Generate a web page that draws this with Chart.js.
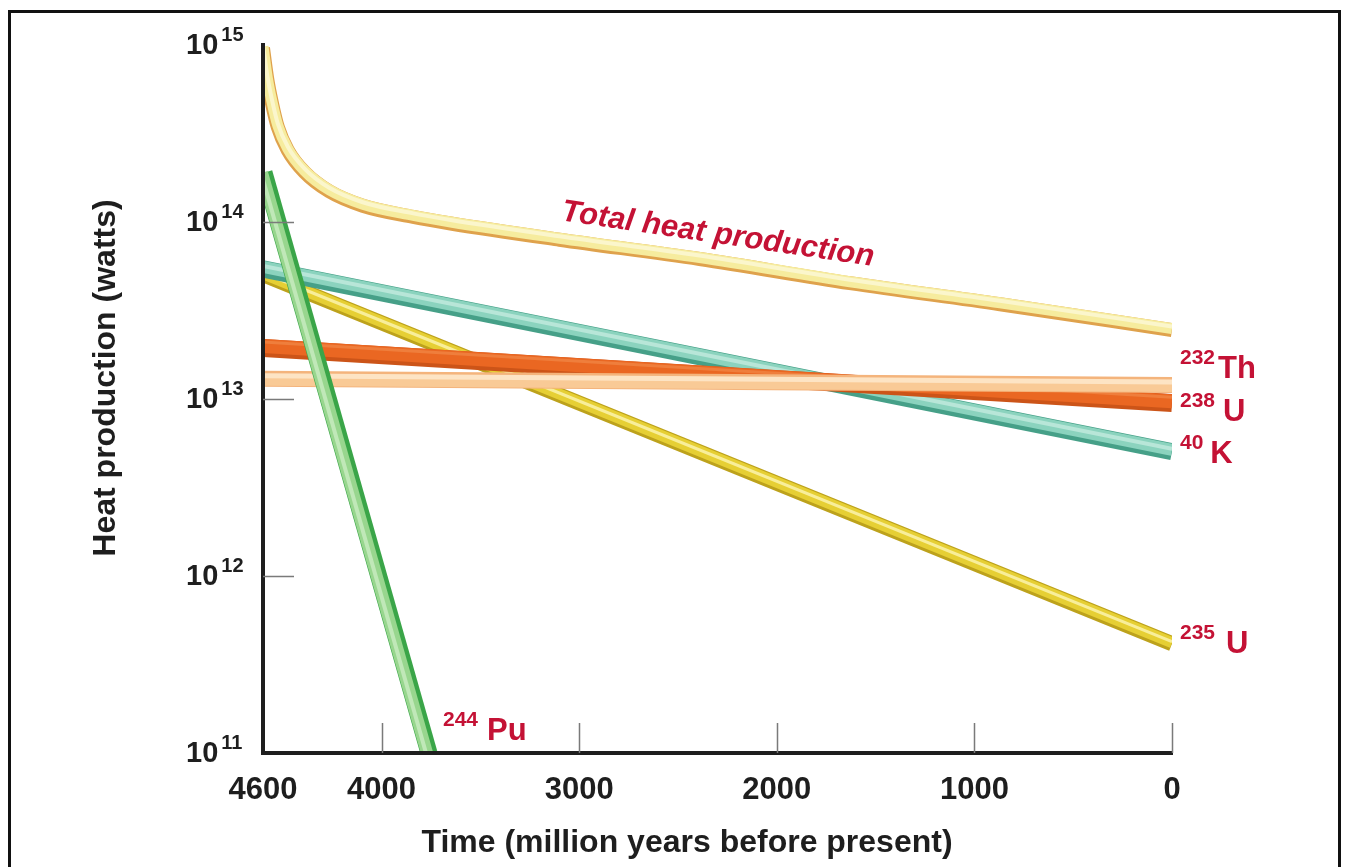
<!DOCTYPE html>
<html>
<head>
<meta charset="utf-8">
<title>Heat production through time</title>
<script src="https://cdn.jsdelivr.net/npm/chart.js@4.4.1/dist/chart.umd.min.js"></script>
<style>
  html, body { margin: 0; padding: 0; background: #fff; }
  #wrap { position: relative; width: 1347px; height: 867px; overflow: hidden; }
  #frame { position: absolute; left: 8px; top: 10px; width: 1327px; height: 900px; border: 3px solid #111; }
  #chart { position: absolute; left: 0; top: 0; }
</style>
</head>
<body>
<div id="wrap">
  <div id="frame"></div>
  <canvas id="chart" width="1347" height="867"></canvas>
</div>
<script>
// --- DATA (million years before present / watts) ---
const xTicks = [4600, 4000, 3000, 2000, 1000, 0];
const yTicks = [1e11, 1e12, 1e13, 1e14, 1e15];

const totalYears = [4600, 4578, 4555, 4525, 4475, 4390, 4265, 4095, 3840, 3650, 3100, 2390, 1630, 870, 0];
const totalHeat  = [9.8e14, 6.5e14, 4.8e14, 3.5e14, 2.6e14, 1.95e14, 1.52e14, 1.26e14, 1.09e14, 1.0e14, 8.1e13, 6.3e13, 4.6e13, 3.5e13, 2.5e13];

const lineYears = [4600, 0];
const k40Heat   = [5.5e13, 5.1e12];
const u235Heat  = [5.1e13, 4.2e11];
const u238Heat  = [1.97e13, 9.6e12];
const th232Heat = [1.30e13, 1.20e13];

const puYears = [4600, 3765];
const puHeat  = [1.9e14, 1.0e11];

// --- LOOK ---
const FONT = '"Liberation Sans", Arial, Helvetica, sans-serif';
const INK = '#1e1e1e';
const RED = '#c41235';

// bottom layer first; each band is stacked from a few strokes
const series = [
  { name: '235U', years: lineYears, heat: u235Heat, strokes: [
      { color: '#bda21c', width: 15, shift: [0, 1] },
      { color: '#e6cf34', width: 11 },
      { color: '#f8ee9a', width: 3, shift: [0, -1] } ] },
  { name: '40K', years: lineYears, heat: k40Heat, strokes: [
      { color: '#46a088', width: 17, shift: [0, 1] },
      { color: '#8bd3be', width: 12, shift: [0, -1] },
      { color: '#b8e6d8', width: 4, shift: [0, -2] } ] },
  { name: '238U', years: lineYears, heat: u238Heat, strokes: [
      { color: '#cc5418', width: 18, shift: [0, 1] },
      { color: '#ea6722', width: 14, shift: [0, -1] },
      { color: '#ef7e3c', width: 3, shift: [0, -5] } ] },
  { name: '232Th', years: lineYears, heat: th232Heat, strokes: [
      { color: '#f4b47c', width: 16 },
      { color: '#f9ca96', width: 12, shift: [0, 1] },
      { color: '#fde4c4', width: 5, shift: [0, -3] } ] },
  { name: 'Total', years: totalYears, heat: totalHeat, smooth: true, strokes: [
      { color: '#dfa24c', width: 14, shift: [0, 1.5] },
      { color: '#f6ec9e', width: 11 },
      { color: '#fbf6cc', width: 4, shift: [0, -2] } ] },
  { name: '244Pu', years: puYears, heat: puHeat, strokes: [
      { color: '#3aa548', width: 17, shift: [1, 0] },
      { color: '#98d68e', width: 12, shift: [-1, 0] },
      { color: '#c0e8b8', width: 4, shift: [-2, 0] } ] }
];

// annotations at the right end of the bands
const endLabels = [
  { sup: '232', main: 'Th', heat: th232Heat, gap: 3, dy: -7 },
  { sup: '238', main: 'U', heat: u238Heat, gap: 8, dy: 19 },
  { sup: '40', main: 'K', heat: k40Heat, gap: 7, dy: 12 },
  { sup: '235', main: 'U', heat: u235Heat, gap: 11, dy: 10 }
];

// --- BUILD DATASETS ---
const datasets = [];
series.forEach((s, layer) => {
  const pts = s.years.map((yr, i) => ({ x: yr, y: s.heat[i] }));
  s.strokes.forEach((st, j) => {
    datasets.push({
      label: s.name,
      data: pts,
      borderColor: st.color,
      borderWidth: st.width,
      shift: st.shift || [0, 0],
      order: 100 - layer * 10 - j,
      pointRadius: 0,
      fill: false,
      tension: 0,
      cubicInterpolationMode: s.smooth ? 'monotone' : 'default',
      clip: 0
    });
  });
});

// --- HELPERS ---
function drawSup(ctx, x, baseline, sup, main, gap, color) {
  ctx.fillStyle = color;
  ctx.textAlign = 'left';
  ctx.textBaseline = 'alphabetic';
  ctx.font = 'bold 21px ' + FONT;
  ctx.fillText(sup, x, baseline - 14);
  const w = ctx.measureText(sup).width;
  ctx.font = 'bold 31px ' + FONT;
  ctx.fillText(main, x + w + gap, baseline);
}

const overlay = {
  id: 'overlay',
  beforeDatasetDraw(chart, args) {
    const ds = chart.data.datasets[args.index];
    chart.ctx.save();
    chart.ctx.translate(ds.shift[0], ds.shift[1]);
  },
  afterDatasetDraw(chart) {
    chart.ctx.restore();
  },
  afterDraw(chart) {
    const ctx = chart.ctx;
    const xs = chart.scales.x, ys = chart.scales.y;
    const area = chart.chartArea;
    ctx.save();

    // inward tick marks
    ctx.strokeStyle = '#7a7a7a';
    ctx.lineWidth = 1.5;
    ctx.beginPath();
    xTicks.slice(1).forEach(v => {
      const px = Math.round(xs.getPixelForValue(v)) + 0.5;
      ctx.moveTo(px, area.bottom);
      ctx.lineTo(px, area.bottom - 30);
    });
    yTicks.slice(1, -1).forEach(v => {
      const py = Math.round(ys.getPixelForValue(v)) + 0.5;
      ctx.moveTo(area.left, py);
      ctx.lineTo(area.left + 31, py);
    });
    ctx.stroke();

    // y tick labels 10^n
    yTicks.forEach(v => {
      const py = ys.getPixelForValue(v);
      ctx.fillStyle = INK;
      ctx.textAlign = 'left';
      ctx.textBaseline = 'middle';
      ctx.font = 'bold 29px ' + FONT;
      ctx.fillText('10', 186, py + 1);
      const w = ctx.measureText('10').width;
      ctx.textBaseline = 'alphabetic';
      ctx.font = 'bold 20px ' + FONT;
      ctx.fillText(String(Math.round(Math.log10(v))), 186 + w + 3, py - 4);
    });

    // axis titles
    ctx.fillStyle = INK;
    ctx.textAlign = 'center';
    ctx.textBaseline = 'middle';
    ctx.font = 'bold 32px ' + FONT;
    ctx.fillText('Time (million years before present)', 687, 843);
    ctx.save();
    ctx.translate(106, 378);
    ctx.rotate(-Math.PI / 2);
    ctx.fillText('Heat production (watts)', 0, 0);
    ctx.restore();

    // labels at the end of each band
    const xEnd = xs.getPixelForValue(0) + 8;
    endLabels.forEach(l => {
      const py = ys.getPixelForValue(l.heat[l.heat.length - 1]);
      drawSup(ctx, xEnd, py + l.dy, l.sup, l.main, l.gap, RED);
    });
    drawSup(ctx, xs.getPixelForValue(puYears[1]) + 15, ys.getPixelForValue(puHeat[1]) - 13, '244', 'Pu', 9, RED);

    // label along the total curve
    const x1 = xs.getPixelForValue(totalYears[10]), y1 = ys.getPixelForValue(totalHeat[10]);
    const x2 = xs.getPixelForValue(totalYears[13]), y2 = ys.getPixelForValue(totalHeat[13]);
    ctx.save();
    ctx.translate(x1 + 1, y1 - 18);
    ctx.rotate(Math.atan2(y2 - y1, x2 - x1));
    ctx.fillStyle = RED;
    ctx.textAlign = 'left';
    ctx.textBaseline = 'alphabetic';
    ctx.font = 'italic bold 31px ' + FONT;
    ctx.fillText('Total heat production', 0, 0);
    ctx.restore();

    ctx.restore();
  }
};

// --- CHART ---
new Chart(document.getElementById('chart'), {
  type: 'line',
  data: { datasets },
  options: {
    responsive: false,
    animation: false,
    events: [],
    layout: { padding: { top: 45, right: 175, left: 0, bottom: 0 } },
    plugins: { legend: { display: false }, tooltip: { enabled: false } },
    scales: {
      x: {
        type: 'linear',
        min: 0,
        max: 4600,
        reverse: true,
        afterBuildTicks: s => { s.ticks = xTicks.map(v => ({ value: v })); },
        afterFit: s => { s.height = 114; },
        grid: { display: false, drawTicks: false },
        border: { display: true, color: INK, width: 4, z: 1 },
        ticks: {
          autoSkip: false, maxRotation: 0, padding: 19, color: INK,
          font: { family: FONT, size: 31, weight: 'bold' },
          callback: v => String(v)
        },
        title: { display: false }
      },
      y: {
        type: 'logarithmic',
        min: 1e11,
        max: 1e15,
        afterBuildTicks: s => { s.ticks = yTicks.map(v => ({ value: v })); },
        afterFit: s => { s.width = 263; },
        grid: { display: false, drawTicks: false },
        border: { display: true, color: INK, width: 4, z: 1 },
        ticks: { display: false }
      }
    }
  },
  plugins: [overlay]
});
</script>
</body>
</html>
